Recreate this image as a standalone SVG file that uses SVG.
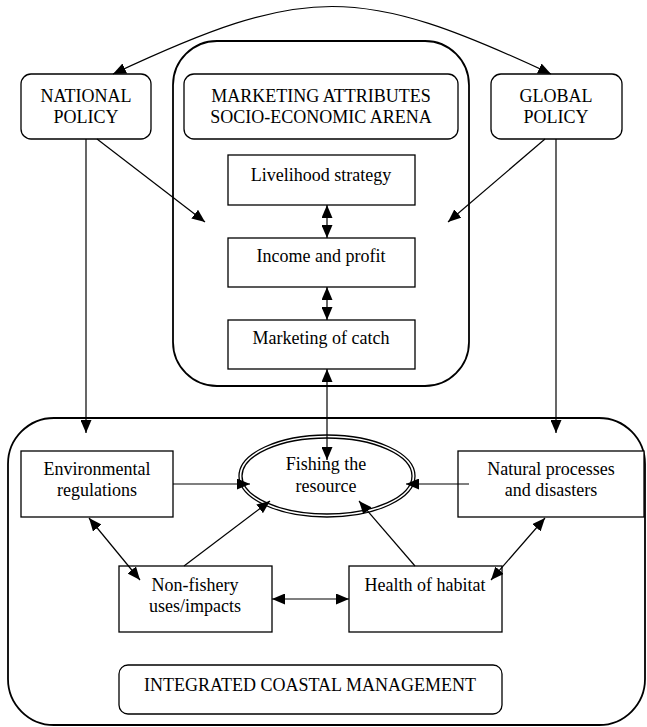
<svg xmlns="http://www.w3.org/2000/svg" width="647" height="727" viewBox="0 0 647 727">
<style>
text{font-family:"Liberation Serif","Times New Roman",serif;font-size:18px;fill:#000;text-anchor:middle}
.box{fill:#fff;stroke:#000;stroke-width:1.3}
.big{fill:none;stroke:#000;stroke-width:1.8}
.ln{fill:none;stroke:#000;stroke-width:1.2}
.a{marker-end:url(#ah)}
.d{marker-start:url(#ah);marker-end:url(#ah)}
</style>
<defs>
<marker id="ah" markerUnits="userSpaceOnUse" markerWidth="13" markerHeight="11" refX="13" refY="5.5" orient="auto-start-reverse" viewBox="0 0 13 11">
<path d="M0,0 L13,5.5 L0,11 z" fill="#000"/>
</marker>
</defs>
<rect width="647" height="727" fill="#fff"/>
<g id="marketing-arena"><rect class="big" x="173" y="41" width="296" height="345" rx="44"/></g>
<g id="icm-arena"><rect class="big" x="8" y="418" width="637" height="307" rx="46"/></g>
<g id="national"><rect class="box" x="21" y="74" width="130" height="65" rx="10"/><text x="86" y="102">NATIONAL</text><text x="86" y="123">POLICY</text></g>
<g id="marketing-attr"><rect class="box" x="184" y="74" width="274" height="65" rx="10"/><text x="321" y="102">MARKETING ATTRIBUTES</text><text x="321" y="123">SOCIO-ECONOMIC ARENA</text></g>
<g id="global"><rect class="box" x="491" y="74" width="131" height="65" rx="10"/><text x="556" y="102">GLOBAL</text><text x="556" y="123">POLICY</text></g>
<g id="livelihood"><rect class="box" x="228" y="155" width="187" height="50"/><text x="321" y="181">Livelihood strategy</text></g>
<g id="income"><rect class="box" x="228" y="238" width="187" height="49"/><text x="321" y="262">Income and profit</text></g>
<g id="mcatch"><rect class="box" x="228" y="320" width="187" height="49"/><text x="321" y="344">Marketing of catch</text></g>
<g id="envreg"><rect class="box" x="21" y="451" width="152" height="66"/><text x="97" y="475">Environmental</text><text x="97" y="496">regulations</text></g>
<g id="fishing"><ellipse cx="327" cy="476" rx="88" ry="41" fill="#fff" stroke="#000" stroke-width="1.3"/><ellipse cx="327" cy="476" rx="85" ry="38" fill="none" stroke="#000" stroke-width="1.3"/><text x="326" y="470">Fishing the</text><text x="326" y="492">resource</text></g>
<g id="natural"><rect class="box" x="458" y="451" width="186" height="66"/><text x="551" y="475">Natural processes</text><text x="551" y="496">and disasters</text></g>
<g id="nonfishery"><rect class="box" x="119" y="566" width="153" height="66"/><text x="195" y="591">Non-fishery</text><text x="195" y="612">uses/impacts</text></g>
<g id="health"><rect class="box" x="349" y="566" width="153" height="66"/><text x="425" y="591">Health of habitat</text></g>
<g id="icm"><rect class="box" x="119" y="665" width="383" height="49" rx="9"/><text x="310" y="691">INTEGRATED COASTAL MANAGEMENT</text></g>
<g id="connectors">
<path class="ln d" d="M113,74 C305,-16 359,-16 551,74"/>
<line class="ln a" x1="97" y1="139" x2="205" y2="222"/>
<line class="ln a" x1="545" y1="139" x2="448" y2="222"/>
<line class="ln a" x1="86" y1="139" x2="86" y2="433"/>
<line class="ln a" x1="556" y1="139" x2="556" y2="433"/>
<line class="ln d" x1="327" y1="205" x2="327" y2="238"/>
<line class="ln d" x1="327" y1="287" x2="327" y2="320"/>
<line class="ln d" x1="327" y1="369" x2="327" y2="460"/>
<line class="ln a" x1="173" y1="484" x2="250" y2="484"/>
<line class="ln a" x1="469" y1="484" x2="406" y2="484"/>
<line class="ln d" x1="89" y1="518" x2="140" y2="580"/>
<line class="ln a" x1="184" y1="566" x2="270" y2="501"/>
<line class="ln a" x1="415" y1="566" x2="359" y2="501"/>
<line class="ln d" x1="545" y1="518" x2="491" y2="580"/>
<line class="ln d" x1="272" y1="599" x2="349" y2="599"/>
</g>
</svg>
